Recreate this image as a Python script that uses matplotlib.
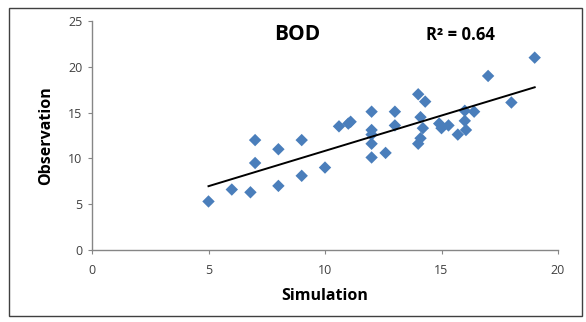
import numpy as np
import matplotlib.pyplot as plt
from matplotlib.patches import Rectangle

# values
simulation = [5, 6, 6.8, 7, 7, 8, 8, 9, 9, 10,
              10.6, 11, 11.1, 12, 12, 12, 12, 12, 12.6, 13,
              13, 14, 14.3, 14.1, 14.2, 14.1, 14, 14.9, 15, 15.3,
              15.7, 16.05, 16, 16, 16.4, 17, 18, 19]
observation = [5.3, 6.6, 6.3, 12, 9.5, 11, 7, 12, 8.1, 9,
               13.5, 13.8, 14, 15.1, 13.1, 12.6, 11.6, 10.1, 10.6, 15.1,
               13.6, 17, 16.2, 14.5, 13.3, 12.2, 11.6, 13.8, 13.3, 13.6,
               12.6, 13.1, 14.1, 15.2, 15.1, 19, 16.1, 21]
x_ticks = [0, 5, 10, 15, 20]
y_ticks = [0, 5, 10, 15, 20, 25]
r_squared = 0.64

FONT = ["Open Sans", "DejaVu Sans"]
GRAY = "#868686"


def main():
    fig = plt.figure(figsize=(5.86, 3.22), dpi=100)
    fig.patches.append(Rectangle((9 / 586, 6 / 322), 573 / 586, 308 / 322,
                                 transform=fig.transFigure, fill=False,
                                 edgecolor="#404040", linewidth=1.0))
    ax = fig.add_axes([92 / 586, 1 - 250 / 322, 466 / 586, 229 / 322])

    ax.scatter(simulation, observation, marker="D", s=40, color="#4a7ebb",
               edgecolors="none", zorder=3)

    # linear trend line, as Excel draws it
    slope, intercept = np.polyfit(simulation, observation, 1)
    xs = np.array([min(simulation), max(simulation)])
    ax.plot(xs, slope * xs + intercept, color="black", linewidth=1.4, zorder=4)

    ax.set_xlim(0, 20)
    ax.set_ylim(0, 25)
    ax.set_xticks(x_ticks)
    ax.set_yticks(y_ticks)
    for side in ("top", "right"):
        ax.spines[side].set_visible(False)
    for side in ("left", "bottom"):
        ax.spines[side].set_color(GRAY)
        ax.spines[side].set_linewidth(1.0)
    ax.tick_params(direction="out", length=3, color=GRAY, labelcolor="#404040",
                   labelsize=9, pad=4)
    for label in ax.get_xticklabels() + ax.get_yticklabels():
        label.set_family(FONT)
    ax.tick_params(axis="x", pad=7)

    ax.set_xlabel("Simulation", family=FONT, fontweight="bold", fontsize=11.5,
                  labelpad=8)
    ax.set_ylabel("Observation", family=FONT, fontweight="bold", fontsize=11.5,
                  labelpad=10)

    ax.text(0.44, 0.94, "BOD", transform=ax.transAxes, family=FONT,
            fontweight="bold", fontsize=15, ha="center", va="center")
    ax.text(0.79, 0.94, f"R² = {r_squared:.2f}", transform=ax.transAxes,
            family=FONT, fontweight="bold", fontsize=12, ha="center", va="center")

    fig.savefig("out.png", dpi=100)


if __name__ == "__main__":
    main()
